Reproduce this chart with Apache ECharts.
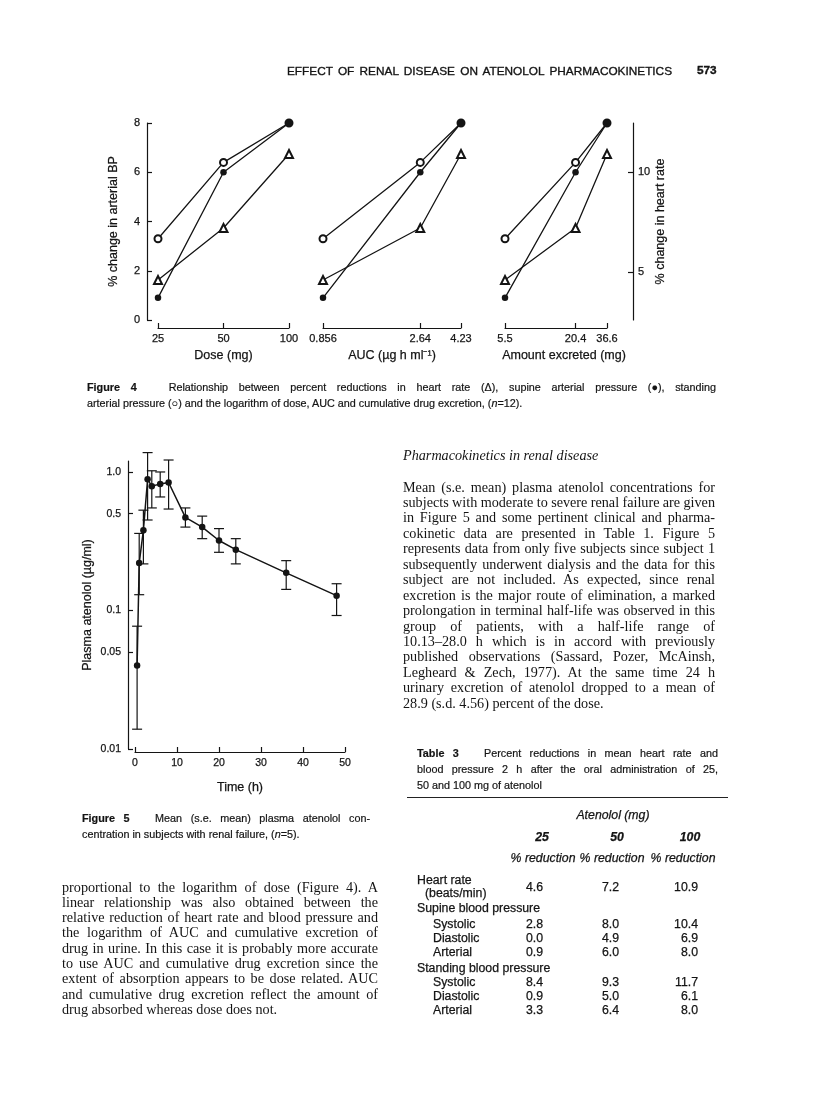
<!DOCTYPE html>
<html>
<head>
<meta charset="utf-8">
<script src="https://cdn.jsdelivr.net/npm/echarts@6/dist/echarts.min.js"></script>
<style>
  html, body { margin: 0; padding: 0; background: #fff; }
  #page { position: relative; width: 816px; height: 1111px; overflow: hidden; background: #fff; }
  #chart { position: absolute; left: 0; top: 0; width: 816px; height: 1111px; }
  #text { position: absolute; left: 0; top: 0; width: 816px; height: 1111px; pointer-events: none; }
  .t { position: absolute; white-space: nowrap; color: #141414; }
  .serif { font-family: "Liberation Serif", "DejaVu Serif", serif; font-size: 14.2px; line-height: 15px; }
  .sans { font-family: "Liberation Sans", Arial, sans-serif; font-size: 10.8px; line-height: 13px; -webkit-text-stroke: 0.2px #141414; }
  .tab { font-family: "Liberation Sans", Arial, sans-serif; font-size: 12.3px; line-height: 13px; -webkit-text-stroke: 0.25px #141414; }
  .head { font-family: "Liberation Sans", Arial, sans-serif; font-size: 11.8px; line-height: 14px; -webkit-text-stroke: 0.35px #141414; }
  .rule { position: absolute; height: 0; border-top: 1.2px solid #222; }
</style>
</head>
<body>
<div id="page">
  <div id="chart"></div>
  <div id="text"></div>
</div>
<script>
// Figure 4 - x variables (log scale) and % reductions
const dose = [25, 50, 100]
const auc = [0.856, 2.64, 4.23]
const excreted = [5.5, 20.4, 36.6]
const doseLabels = ['25', '50', '100']
const aucLabels = ['0.856', '2.64', '4.23']
const excretedLabels = ['5.5', '20.4', '36.6']
const heartRate = [4.6, 7.2, 10.9]          // triangles, right axis
const supineArterial = [0.9, 6.0, 8.0]      // filled circles
const standingArterial = [3.3, 6.4, 8.0]    // open circles
const hrTicks = [5, 10]

// Figure 5 - plasma atenolol (mean, s.e. mean)
const timeH = [0.5, 1, 2, 3, 4, 6, 8, 12, 16, 20, 24, 36, 48]
const plasmaMean = [0.040, 0.22, 0.38, 0.885, 0.79, 0.82, 0.84, 0.47, 0.40, 0.32, 0.275, 0.187, 0.128]
const plasmaHigh = [0.077, 0.36, 0.53, 1.38, 1.02, 1.0, 1.22, 0.55, 0.48, 0.39, 0.33, 0.229, 0.156]
const plasmaLow = [0.0139, 0.13, 0.217, 0.45, 0.55, 0.66, 0.54, 0.40, 0.33, 0.263, 0.217, 0.142, 0.092]
const concTicks = [0.01, 0.05, 0.1, 0.5, 1.0]
const concTickLabels = ['0.01', '0.05', '0.1', '0.5', '1.0']

// Table 3
const tableDoses = ['25', '50', '100']
const supineRows = [['2.8', '8.0', '10.4'], ['0.0', '4.9', '6.9'], ['0.9', '6.0', '8.0']]
const standingRows = [['8.4', '9.3', '11.7'], ['0.9', '5.0', '6.1'], ['3.3', '6.4', '8.0']]
const subRowLabels = ['Systolic', 'Diastolic', 'Arterial']

const ink = '#141414'
const sans = '"Liberation Sans", Arial, sans-serif'
const log10 = Math.log10

const panels = [
  { values: dose, labels: doseLabels, name: 'Dose (mg)', left: 158, width: 131, namePad: 0 },
  { values: auc, labels: aucLabels, name: 'AUC (µg h ml⁻¹)', left: 323, width: 138, namePad: 0 },
  { values: excreted, labels: excretedLabels, name: 'Amount excreted (mg)', left: 505, width: 102, namePad: 16 }
]

const nearest = (arr, v) => {
  let best = 0
  arr.forEach((a, i) => { if (Math.abs(log10(a) - v) < Math.abs(log10(arr[best]) - v)) best = i })
  return best
}

const tickLabel = { color: ink, fontFamily: sans, fontSize: 11, textBorderColor: ink, textBorderWidth: 0.25 }
const nameStyle = { color: ink, fontFamily: sans, fontSize: 12.5, textBorderColor: ink, textBorderWidth: 0.25 }
const axisLine = { onZero: false, lineStyle: { color: ink, width: 1.2 } }
const tickStyle = { color: ink, width: 1.2 }

const grid = panels.map(p => ({ left: p.left, width: p.width, top: 123, height: 197 }))
grid.push({ left: 135, width: 210, top: 461, height: 288 })

const xAxis = panels.map((p, i) => ({
  gridIndex: i,
  type: 'value',
  position: 'bottom',
  min: log10(p.values[0]),
  max: log10(p.values[p.values.length - 1]),
  offset: 8,
  axisLine,
  axisTick: { inside: true, length: 5, customValues: p.values.map(log10), lineStyle: tickStyle },
  axisLabel: { ...tickLabel, margin: 5, customValues: p.values.map(log10), formatter: v => p.labels[nearest(p.values, v)] },
  splitLine: { show: false },
  name: p.name,
  nameLocation: 'middle',
  nameGap: 21,
  nameTextStyle: { ...nameStyle, padding: [0, 0, 0, p.namePad] }
}))
xAxis.push({
  gridIndex: 3,
  type: 'value',
  position: 'bottom',
  min: 0, max: 50, interval: 10,
  offset: 3,
  axisLine,
  axisTick: { inside: true, length: 5, lineStyle: tickStyle },
  axisLabel: { ...tickLabel, fontSize: 10.5, margin: 6 },
  splitLine: { show: false },
  name: 'Time (h)', nameLocation: 'middle', nameGap: 29,
  nameTextStyle: nameStyle
})

const yAxis = []
panels.forEach((p, i) => {
  yAxis.push({
    gridIndex: i, type: 'value', position: 'left', min: 0, max: 8, interval: 2,
    show: i === 0,
    offset: 11,
    axisLine: { show: true, ...axisLine },
    axisTick: { show: true, inside: true, length: 5, lineStyle: tickStyle },
    axisLabel: { ...tickLabel, margin: 7 },
    splitLine: { show: false },
    name: '% change in arterial BP', nameLocation: 'middle', nameRotate: 90, nameGap: 27,
    nameTextStyle: nameStyle
  })
})
panels.forEach((p, i) => {
  yAxis.push({
    gridIndex: i, type: 'value', min: 2.6, max: 12.45, position: 'right',
    show: i === 2,
    offset: 26,
    axisLine: { show: true, ...axisLine },
    axisTick: { show: true, inside: true, length: 5, customValues: hrTicks, lineStyle: tickStyle },
    axisLabel: { ...tickLabel, margin: 5, customValues: hrTicks },
    splitLine: { show: false },
    name: '% change in heart rate', nameLocation: 'middle', nameRotate: 90, nameGap: 21,
    nameTextStyle: nameStyle
  })
})
yAxis.push({
  gridIndex: 3, type: 'value', position: 'left', min: log10(0.01), max: log10(1.2),
  offset: 7,
  axisLine: { show: true, ...axisLine },
  axisTick: { show: true, inside: true, length: 5, customValues: concTicks.map(log10), lineStyle: tickStyle },
  axisLabel: { ...tickLabel, fontSize: 10.5, margin: 7, customValues: concTicks.map(log10), formatter: v => concTickLabels[nearest(concTicks, v)] },
  splitLine: { show: false },
  name: 'Plasma atenolol (µg/ml)', nameLocation: 'middle', nameRotate: 90, nameGap: 34,
  nameTextStyle: nameStyle
})

const lineBase = { type: 'line', lineStyle: { color: ink, width: 1.3 }, itemStyle: { color: ink, borderWidth: 1.2 }, z: 3 }
const series = []
panels.forEach((p, i) => {
  series.push({ ...lineBase, name: 'heart rate', xAxisIndex: i, yAxisIndex: 3 + i, symbol: 'emptyTriangle', symbolSize: 8,
    data: p.values.map((v, k) => [log10(v), heartRate[k]]) })
  series.push({ ...lineBase, name: 'standing arterial', xAxisIndex: i, yAxisIndex: i, symbol: 'emptyCircle', symbolSize: 7,
    data: p.values.map((v, k) => [log10(v), standingArterial[k]]) })
  series.push({ ...lineBase, name: 'supine arterial', xAxisIndex: i, yAxisIndex: i, symbol: 'circle', symbolSize: 6.5,
    data: p.values.map((v, k) => [log10(v), supineArterial[k]]) })
})
series.push({
  type: 'custom', xAxisIndex: 3, yAxisIndex: 6, z: 2,
  data: timeH.map((t, i) => [t, log10(plasmaLow[i]), log10(plasmaHigh[i])]),
  encode: { x: 0, y: [1, 2] },
  renderItem: (params, api) => {
    const x = api.value(0)
    const lo = api.coord([x, api.value(1)])
    const hi = api.coord([x, api.value(2)])
    const cap = 5
    const style = { stroke: ink, lineWidth: 1.2 }
    return {
      type: 'group',
      children: [
        { type: 'line', shape: { x1: lo[0], y1: lo[1], x2: hi[0], y2: hi[1] }, style },
        { type: 'line', shape: { x1: lo[0] - cap, y1: lo[1], x2: lo[0] + cap, y2: lo[1] }, style },
        { type: 'line', shape: { x1: hi[0] - cap, y1: hi[1], x2: hi[0] + cap, y2: hi[1] }, style }
      ]
    }
  }
})
series.push({ ...lineBase, lineStyle: { color: ink, width: 1.5 }, xAxisIndex: 3, yAxisIndex: 6, symbol: 'circle', symbolSize: 6.5,
  data: timeH.map((t, i) => [t, log10(plasmaMean[i])]) })

const chart = echarts.init(document.getElementById('chart'))
chart.setOption({
  backgroundColor: '#fff',
  animation: false,
  grid, xAxis, yAxis, series
})

// ---- page text ----
const textLayer = document.getElementById('text')
function addLine(html, x, y, cls, width) {
  const d = document.createElement('div')
  d.className = 't ' + cls
  d.innerHTML = html
  d.style.left = x + 'px'
  textLayer.appendChild(d)
  const lh = parseFloat(getComputedStyle(d).lineHeight)
  d.style.top = (y - lh / 2) + 'px'
  if (width) {
    const nat = d.getBoundingClientRect().width
    const spaces = (d.textContent.match(/[ \u00a0]/g) || []).length
    const fs = parseFloat(getComputedStyle(d).fontSize)
    let ws = spaces ? (width - nat) / spaces : 0
    const minWs = -0.12 * fs
    if (ws < minWs) {
      ws = minWs
      const rest = width - nat - spaces * ws
      d.style.letterSpacing = (rest / d.textContent.length) + 'px'
    }
    d.style.wordSpacing = ws + 'px'
  }
  return d
}
function addRight(html, xRight, y, cls) {
  const d = addLine(html, 0, y, cls)
  d.style.left = (xRight - d.getBoundingClientRect().width) + 'px'
}
function addCenter(html, xc, y, cls) {
  const d = addLine(html, 0, y, cls)
  d.style.left = (xc - d.getBoundingClientRect().width / 2) + 'px'
}

addLine('EFFECT OF RENAL DISEASE ON ATENOLOL PHARMACOKINETICS', 287, 71, 'head', 385)
addLine('<b>573</b>', 697, 70, 'head')

const fig4Caption = [
  '<b>Figure 4</b>&nbsp;&nbsp; Relationship between percent reductions in heart rate (Δ), supine arterial pressure (●), standing',
  'arterial pressure (○) and the logarithm of dose, AUC and cumulative drug excretion, (<i>n</i>=12).'
]
addLine(fig4Caption[0], 87, 387, 'sans', 629)
addLine(fig4Caption[1], 87, 403, 'sans')

const fig5Caption = [
  '<b>Figure 5</b>&nbsp;&nbsp; Mean (s.e. mean) plasma atenolol con-',
  'centration in subjects with renal failure, (<i>n</i>=5).'
]
addLine(fig5Caption[0], 82, 818, 'sans', 288)
addLine(fig5Caption[1], 82, 834, 'sans')

const leftColumn = [
  'proportional to the logarithm of dose (Figure 4). A',
  'linear relationship was also obtained between the',
  'relative reduction of heart rate and blood pressure and',
  'the logarithm of AUC and cumulative excretion of',
  'drug in urine. In this case it is probably more accurate',
  'to use AUC and cumulative drug excretion since the',
  'extent of absorption appears to be dose related. AUC',
  'and cumulative drug excretion reflect the amount of',
  'drug absorbed whereas dose does not.'
]
leftColumn.forEach((s, i) => addLine(s, 62, 887 + 15.3 * i, 'serif', i < leftColumn.length - 1 ? 316 : 0))

addLine('<i>Pharmacokinetics in renal disease</i>', 403, 455, 'serif')
const rightColumn = [
  'Mean (s.e. mean) plasma atenolol concentrations for',
  'subjects with moderate to severe renal failure are given',
  'in Figure 5 and some pertinent clinical and pharma-',
  'cokinetic data are presented in Table 1. Figure 5',
  'represents data from only five subjects since subject 1',
  'subsequently underwent dialysis and the data for this',
  'subject are not included. As expected, since renal',
  'excretion is the major route of elimination, a marked',
  'prolongation in terminal half-life was observed in this',
  'group of patients, with a half-life range of',
  '10.13–28.0 h which is in accord with previously',
  'published observations (Sassard, Pozer, McAinsh,',
  'Legheard &amp; Zech, 1977). At the same time 24 h',
  'urinary excretion of atenolol dropped to a mean of',
  '28.9 (s.d. 4.56) percent of the dose.'
]
rightColumn.forEach((s, i) => addLine(s, 403, 487 + 15.45 * i, 'serif', i < rightColumn.length - 1 ? 312 : 0))

const tableCaption = [
  '<b>Table 3</b>&nbsp;&nbsp; Percent reductions in mean heart rate and',
  'blood pressure 2 h after the oral administration of 25,',
  '50 and 100 mg of atenolol'
]
addLine(tableCaption[0], 417, 753, 'sans', 301)
addLine(tableCaption[1], 417, 769, 'sans', 301)
addLine(tableCaption[2], 417, 785, 'sans')

const rule = document.createElement('div')
rule.className = 'rule'
rule.style.left = '407px'; rule.style.top = '797px'; rule.style.width = '321px'
textLayer.appendChild(rule)

const colCenters = [542, 617, 690]
const colRights = [543, 619, 698]
addCenter('<i>Atenolol (mg)</i>', 613, 815, 'tab')
tableDoses.forEach((d, c) => addCenter('<i><b>' + d + '</b></i>', colCenters[c], 837, 'tab'))
;[543, 612, 683].forEach(xc => addCenter('<i>% reduction</i>', xc, 858, 'tab'))

addLine('Heart rate', 417, 880, 'tab')
addLine('(beats/min)', 425, 893, 'tab')
heartRate.forEach((v, c) => addRight(v.toFixed(1), colRights[c], 887, 'tab'))
addLine('Supine blood pressure', 417, 908, 'tab')
const supineY = [924, 938, 952]
supineRows.forEach((row, r) => {
  addLine(subRowLabels[r], 433, supineY[r], 'tab')
  row.forEach((v, c) => addRight(v, colRights[c], supineY[r], 'tab'))
})
addLine('Standing blood pressure', 417, 968, 'tab')
const standingY = [982, 996, 1010]
standingRows.forEach((row, r) => {
  addLine(subRowLabels[r], 433, standingY[r], 'tab')
  row.forEach((v, c) => addRight(v, colRights[c], standingY[r], 'tab'))
})
</script>
</body>
</html>
